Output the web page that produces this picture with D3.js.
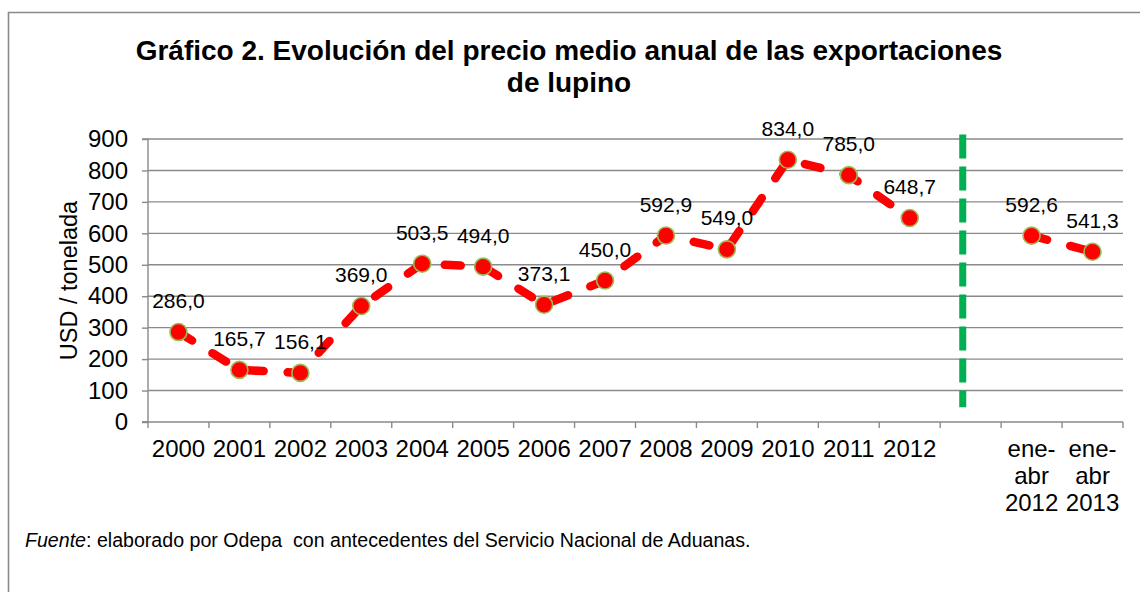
<!DOCTYPE html>
<html>
<head>
<meta charset="utf-8">
<script src="https://cdn.jsdelivr.net/npm/d3@7"></script>
<style>
  body { margin: 0; background: #fff; }
  svg { font-family: "Liberation Sans", Arial, sans-serif; }
  .grid line { stroke: #8a8a8a; stroke-width: 1.4; }
  .axis path, .axis line { stroke: #8a8a8a; stroke-width: 1.4; }
  .axis text { fill: #000; font-size: 24px; }
</style>
</head>
<body>
<svg id="chart" width="1140" height="592"></svg>
<script>
// categories on the x axis ("sep" is the empty slot before the partial-year points)
const categories = ["2000", "2001", "2002", "2003", "2004", "2005", "2006", "2007",
  "2008", "2009", "2010", "2011", "2012", "sep", "ene-abr 2012", "ene-abr 2013"];
// USD per tonne, null where there is no point
const prices = [286.0, 165.7, 156.1, 369.0, 503.5, 494.0, 373.1, 450.0,
  592.9, 549.0, 834.0, 785.0, 648.7, null, 592.6, 541.3];
const yTicks = [0, 100, 200, 300, 400, 500, 600, 700, 800, 900];
const titleLines = ["Gráfico 2. Evolución del precio medio anual de las exportaciones", "de lupino"];
const yLabel = "USD / tonelada";
// dashed green separator: category index position and value span
const separatorAt = 13.37;
const separatorSpan = [47, 914];

const width = 1140, height = 592;
const margin = { left: 148, right: 17, top: 139, bottom: 170 };

const esLocale = d3.formatLocale({ decimal: ",", thousands: ".", grouping: [3], currency: ["$", ""] });
const fmt = esLocale.format(".1f");

const svg = d3.select("#chart");

// outer frame (only top and left edges show in the picture)
svg.append("path")
  .attr("d", "M8.5," + (height + 2) + "V12.5H" + (width + 2))
  .attr("fill", "none")
  .attr("stroke", "#8a8a8a")
  .attr("stroke-width", 1.6);

const x = d3.scaleBand()
  .domain(categories)
  .range([margin.left, width - margin.right])
  .padding(0);

const xIndex = d3.scaleLinear()
  .domain([0, categories.length])
  .range([margin.left, width - margin.right]);

const y = d3.scaleLinear()
  .domain([0, 900])
  .range([height - margin.bottom, margin.top]);

// gridlines
svg.append("g").attr("class", "grid")
  .selectAll("line").data(yTicks.filter(d => d > 0)).enter()
  .append("line")
  .attr("x1", margin.left).attr("x2", width - margin.right)
  .attr("y1", d => y(d)).attr("y2", d => y(d));

// y axis
const yAxis = d3.axisLeft(y).tickValues(yTicks).tickSize(6).tickPadding(14);
svg.append("g").attr("class", "axis y")
  .attr("transform", "translate(" + margin.left + ",0)")
  .call(yAxis)
  .call(g => g.select(".domain").attr("d", "M-6," + y(900) + "H0V" + y(0) + "H-6"));

// x axis, ticks at category boundaries
const xAxisG = svg.append("g").attr("class", "axis x")
  .attr("transform", "translate(0," + y(0) + ")");
xAxisG.append("line")
  .attr("x1", margin.left - 6).attr("x2", width - margin.right);
xAxisG.selectAll(".tick").data(d3.range(categories.length + 1)).enter()
  .append("line").attr("class", "tick")
  .attr("x1", d => xIndex(d)).attr("x2", d => xIndex(d))
  .attr("y1", 0).attr("y2", 6);

const xLabels = xAxisG.selectAll(".xlabel").data(categories.filter(c => c !== "sep")).enter()
  .append("text").attr("class", "xlabel")
  .attr("text-anchor", "middle")
  .attr("transform", d => "translate(" + (x(d) + x.bandwidth() / 2) + ",35)");
xLabels.each(function(d) {
  const parts = d.startsWith("ene-abr") ? ["ene-", "abr", d.split(" ")[1]] : [d];
  d3.select(this).selectAll("tspan").data(parts).enter()
    .append("tspan")
    .attr("x", 0)
    .attr("y", (p, i) => i * 27)
    .text(p => p);
});

// separator
svg.append("line")
  .attr("x1", xIndex(separatorAt)).attr("x2", xIndex(separatorAt))
  .attr("y1", y(separatorSpan[1])).attr("y2", y(separatorSpan[0]))
  .attr("stroke", "#00b050")
  .attr("stroke-width", 7)
  .attr("stroke-dasharray", "24 8");

// series line
const points = categories.map((c, i) => ({ key: c, value: prices[i] }));
const line = d3.line()
  .defined(d => d.value !== null)
  .x(d => x(d.key) + x.bandwidth() / 2)
  .y(d => y(d.value));

svg.append("path")
  .datum(points)
  .attr("d", line)
  .attr("fill", "none")
  .attr("stroke", "#ff0000")
  .attr("stroke-width", 8.5)
  .attr("stroke-linecap", "round")
  .attr("stroke-linejoin", "round")
  .attr("stroke-dasharray", "16 24");

const valid = points.filter(d => d.value !== null);

svg.append("g").selectAll("circle").data(valid).enter()
  .append("circle")
  .attr("cx", d => x(d.key) + x.bandwidth() / 2)
  .attr("cy", d => y(d.value))
  .attr("r", 8.5)
  .attr("fill", "#ff0000")
  .attr("stroke", "#9bbb59")
  .attr("stroke-width", 1.6);

svg.append("g").selectAll("text").data(valid).enter()
  .append("text")
  .attr("x", d => x(d.key) + x.bandwidth() / 2)
  .attr("y", d => y(d.value) - 24)
  .attr("text-anchor", "middle")
  .attr("font-size", 21)
  .text(d => fmt(d.value));

// title
svg.append("g").selectAll("text").data(titleLines).enter()
  .append("text")
  .attr("x", 569)
  .attr("y", (d, i) => 60 + i * 32)
  .attr("text-anchor", "middle")
  .attr("font-size", 28)
  .attr("font-weight", "bold")
  .text(d => d);

// y axis title
svg.append("text")
  .attr("transform", "translate(77," + ((y(0) + y(900)) / 2) + ") rotate(-90)")
  .attr("text-anchor", "middle")
  .attr("font-size", 23.5)
  .text(yLabel);

// source note
const note = svg.append("text")
  .attr("x", 25)
  .attr("y", 547)
  .attr("font-size", 19.6);
note.append("tspan").attr("font-style", "italic").text("Fuente");
note.append("tspan").text(": elaborado por Odepa\u00a0 con antecedentes del Servicio Nacional de Aduanas.");
</script>
</body>
</html>
